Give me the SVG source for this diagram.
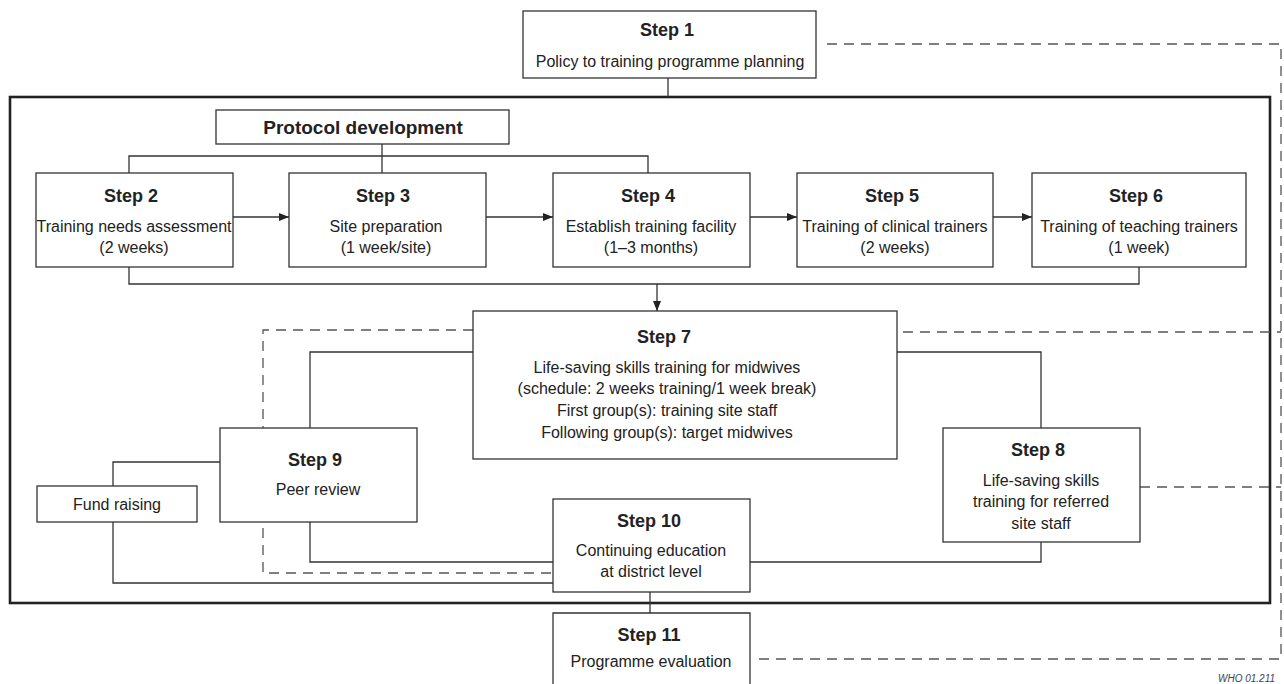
<svg xmlns="http://www.w3.org/2000/svg" width="1284" height="684" viewBox="0 0 1284 684">
<style>
.box{fill:#fff;stroke:#333;stroke-width:1.3}
.ln{fill:none;stroke:#333;stroke-width:1.3}
.dash{fill:none;stroke:#555;stroke-width:1.3;stroke-dasharray:10 7}
.t{font-family:'Liberation Sans',Arial,sans-serif;font-weight:bold;font-size:18px;fill:#222;text-anchor:middle}
.b{font-family:'Liberation Sans',Arial,sans-serif;font-size:16px;fill:#222;text-anchor:middle}
</style>
<defs>
<marker id="ah" viewBox="0 0 10 8" refX="10" refY="4" markerWidth="10" markerHeight="8" markerUnits="userSpaceOnUse" orient="auto">
<path d="M0,0 L10,4 L0,8 z" fill="#222"/>
</marker>
</defs>
<rect width="1284" height="684" fill="#fff"/>
<rect id="frame" x="10" y="97" width="1260" height="506" fill="none" stroke="#222" stroke-width="2.6"/>
<g id="connectors">
<path class="ln" d="M668,78 V97"/>
<path class="ln" d="M382,144 V173"/>
<path class="ln" d="M129,173 V156 H648 V173"/>
<path class="ln" d="M232,217 H289" marker-end="url(#ah)"/>
<path class="ln" d="M485,217 H553" marker-end="url(#ah)"/>
<path class="ln" d="M750,217 H797" marker-end="url(#ah)"/>
<path class="ln" d="M993,217 H1032" marker-end="url(#ah)"/>
<path class="ln" d="M129,267 V284 H1139 V267"/>
<path class="ln" d="M657,284 V311" marker-end="url(#ah)"/>
<path class="ln" d="M473,352 H310 V428"/>
<path class="ln" d="M897,352 H1041 V428"/>
<path class="ln" d="M1041,542 V562 H750"/>
<path class="ln" d="M310,522 V562 H553"/>
<path class="ln" d="M220,462 H113 V486"/>
<path class="ln" d="M113,522 V583 H553"/>
<path class="ln" d="M650,592 V613"/>
<path class="dash" d="M473,330 H263 V573 H553"/>
<path class="dash" d="M827,44 H1281 V659 H752"/>
<path class="dash" d="M903,332 H1281"/>
<path class="dash" d="M1140,487 H1281"/>
</g>
<g id="step1">
<rect class="box" x="523" y="11" width="293" height="67"/>
<text class="t" x="667" y="36">Step 1</text>
<text class="b" x="670" y="67">Policy to training programme planning</text>
</g>
<g id="protocol">
<rect class="box" x="216" y="110" width="293" height="34"/>
<text class="t" x="363" y="134" style="font-size:19px">Protocol development</text>
</g>
<g id="step2">
<rect class="box" x="36" y="173" width="197" height="94"/>
<text class="t" x="131" y="202">Step 2</text>
<text class="b" x="134" y="232">Training needs assessment</text>
<text class="b" x="134" y="253">(2 weeks)</text>
</g>
<g id="step3">
<rect class="box" x="289" y="173" width="197" height="94"/>
<text class="t" x="383" y="202">Step 3</text>
<text class="b" x="386" y="232">Site preparation</text>
<text class="b" x="386" y="253">(1 week/site)</text>
</g>
<g id="step4">
<rect class="box" x="553" y="173" width="197" height="94"/>
<text class="t" x="648" y="202">Step 4</text>
<text class="b" x="651" y="232">Establish training facility</text>
<text class="b" x="651" y="253">(1–3 months)</text>
</g>
<g id="step5">
<rect class="box" x="797" y="173" width="196" height="94"/>
<text class="t" x="892" y="202">Step 5</text>
<text class="b" x="895" y="232">Training of clinical trainers</text>
<text class="b" x="895" y="253">(2 weeks)</text>
</g>
<g id="step6">
<rect class="box" x="1032" y="173" width="214" height="94"/>
<text class="t" x="1136" y="202">Step 6</text>
<text class="b" x="1139" y="232">Training of teaching trainers</text>
<text class="b" x="1139" y="253">(1 week)</text>
</g>
<g id="step7">
<rect class="box" x="473" y="311" width="424" height="148"/>
<text class="t" x="664" y="343">Step 7</text>
<text class="b" x="667" y="373">Life-saving skills training for midwives</text>
<text class="b" x="667" y="394">(schedule: 2 weeks training/1 week break)</text>
<text class="b" x="667" y="416">First group(s): training site staff</text>
<text class="b" x="667" y="438">Following group(s): target midwives</text>
</g>
<g id="step8">
<rect class="box" x="943" y="428" width="197" height="114"/>
<text class="t" x="1038" y="456">Step 8</text>
<text class="b" x="1041" y="486">Life-saving skills</text>
<text class="b" x="1041" y="507">training for referred</text>
<text class="b" x="1041" y="529">site staff</text>
</g>
<g id="step9">
<rect class="box" x="220" y="428" width="197" height="94"/>
<text class="t" x="315" y="466">Step 9</text>
<text class="b" x="318" y="495">Peer review</text>
</g>
<g id="fundraising">
<rect class="box" x="37" y="486" width="160" height="36"/>
<text class="b" x="117" y="510">Fund raising</text>
</g>
<g id="step10">
<rect class="box" x="553" y="499" width="197" height="93"/>
<text class="t" x="649" y="527">Step 10</text>
<text class="b" x="651" y="556">Continuing education</text>
<text class="b" x="651" y="577">at district level</text>
</g>
<g id="step11">
<path class="box" d="M553,690 V613 H750 V690"/>
<text class="t" x="649" y="641">Step 11</text>
<text class="b" x="651" y="667">Programme evaluation</text>
</g>
<text x="1218" y="682" style="font-family:'Liberation Sans',Arial,sans-serif;font-style:italic;font-size:10px;fill:#444">WHO 01.211</text>
</svg>
